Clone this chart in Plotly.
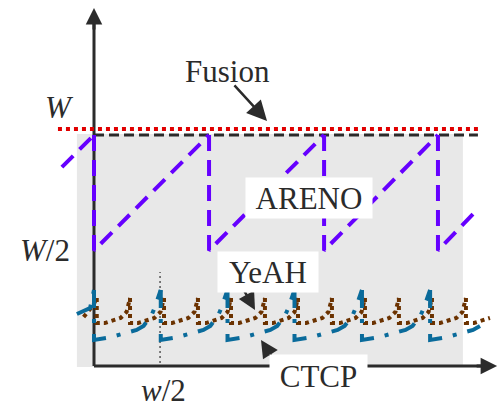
import plotly.graph_objects as go

# ---------------- data (y in units of W, x on same scale) ----------------
W_LEVEL = 1.0
FUSION_LEVEL = 1.026
FUSION_X = [-0.156, 1.662]
W_LINE_X = [0.0, 1.662]

# ARENO sawtooth
areno_drop_x = [0.0, 0.498, 0.996, 1.489]
areno_high = 1.0
areno_low = 0.5
areno_lead_x = [-0.139, 0.0]
areno_lead_y = [0.861, 1.0]
areno_end_x = 1.662
areno_end_y = 0.680

# CTCP (cubic-like ramps)
ctcp_drop_x = [0.0, 0.289, 0.578, 0.868, 1.160, 1.455]
ctcp_top = 0.329
ctcp_ramp_frac = [0.0, 0.223, 0.433, 0.639, 0.742, 0.804, 0.863, 0.907, 0.952, 1.0]
ctcp_ramp_y = [0.113, 0.123, 0.139, 0.156, 0.173, 0.195, 0.221, 0.251, 0.290, 0.329]
ctcp_lead_x = [-0.074, -0.017, 0.0]
ctcp_lead_y = [0.225, 0.251, 0.329]
ctcp_tail_frac_max = 0.742
ctcp_period = 0.291

# YeAH
yeah_drop_x = [0.012, 0.156, 0.303, 0.450, 0.593, 0.740, 0.883, 1.030, 1.173, 1.320, 1.463, 1.610]
yeah_top = 0.294
yeah_ramp_frac = [0.0, 0.241, 0.476, 0.717, 0.897, 0.959, 1.0]
yeah_ramp_y = [0.186, 0.186, 0.195, 0.208, 0.234, 0.264, 0.294]
yeah_lead_x = [-0.045, -0.025, -0.004, 0.012]
yeah_lead_y = [0.212, 0.235, 0.262, 0.294]
yeah_tail_frac_max = 0.717
yeah_period = 0.145

# w/2 marker
w2_x = 0.286
w2_y = [0.013, 0.407]

# colours / styles
PURPLE = "#6600ff"
BLUE = "#0a6b9b"
BROWN = "#6b3200"
RED = "#e00000"
DARK = "#2b2b2b"
GRAY_BG = "#e8e8e8"
FONT = "Liberation Serif"
FS = 31

fig = go.Figure()


def seg(x, y, color, width, dash):
    fig.add_trace(go.Scatter(x=x, y=y, mode="lines", showlegend=False, hoverinfo="skip",
                             line=dict(color=color, width=width, dash=dash)))


# reference lines
seg(W_LINE_X, [W_LEVEL, W_LEVEL], DARK, 3, "10px,5px")
seg(FUSION_X, [FUSION_LEVEL, FUSION_LEVEL], RED, 4, "4px,4px")

# ARENO
AR_DASH = "16px,9px"
seg(areno_lead_x, areno_lead_y, PURPLE, 4, AR_DASH)
for i, x0 in enumerate(areno_drop_x):
    if i + 1 < len(areno_drop_x):
        x1, y1 = areno_drop_x[i + 1], areno_high
    else:
        x1, y1 = areno_end_x, areno_end_y
    seg([x0, x0, x1], [areno_high, areno_low, y1], PURPLE, 4, AR_DASH)

# YeAH
YE_DASH = "4px,4px"
seg(yeah_lead_x, yeah_lead_y, BROWN, 4, YE_DASH)
for i, x0 in enumerate(yeah_drop_x):
    if i + 1 < len(yeah_drop_x):
        p = yeah_drop_x[i + 1] - x0
        fr = yeah_ramp_frac
        ys = yeah_ramp_y
    else:
        p = yeah_period
        fr = [f for f in yeah_ramp_frac if f <= yeah_tail_frac_max]
        ys = yeah_ramp_y[:len(fr)]
    xs = [x0] + [x0 + f * p for f in fr]
    seg(xs, [yeah_top] + list(ys), BROWN, 4, YE_DASH)

# CTCP
CT_DASH = "18px,11px,4px,11px"
seg(ctcp_lead_x, ctcp_lead_y, BLUE, 4, CT_DASH)
for i, x0 in enumerate(ctcp_drop_x):
    if i + 1 < len(ctcp_drop_x):
        p = ctcp_drop_x[i + 1] - x0
        fr = ctcp_ramp_frac
        ys = ctcp_ramp_y
    else:
        p = ctcp_period
        fr = [f for f in ctcp_ramp_frac if f <= ctcp_tail_frac_max]
        ys = ctcp_ramp_y[:len(fr)]
    xs = [x0] + [x0 + f * p for f in fr]
    seg(xs, [ctcp_top] + list(ys), BLUE, 4, CT_DASH)

# shapes: background, axes, w/2 marker
shapes = [
    dict(type="rect", xref="x", yref="y", x0=-0.074, x1=1.597, y0=-0.004, y1=1.004,
         fillcolor=GRAY_BG, line=dict(width=0), layer="below"),
    dict(type="line", xref="x", yref="y", x0=0, x1=0, y0=0, y1=1.50,
         line=dict(color=DARK, width=3), layer="below"),
    dict(type="line", xref="x", yref="y", x0=0, x1=1.70, y0=0, y1=0,
         line=dict(color=DARK, width=3), layer="below"),
    dict(type="line", xref="x", yref="y", x0=w2_x, x1=w2_x, y0=w2_y[0], y1=w2_y[1],
         line=dict(color="#555555", width=1.5, dash="2px,3px"), layer="below"),
]

annotations = []


def arrow(tail, head, width, size):
    annotations.append(dict(x=head[0], y=head[1], ax=tail[0], ay=tail[1], xref="x", yref="y",
                            axref="x", ayref="y", text="", showarrow=True, arrowhead=2,
                            arrowwidth=width, arrowsize=size, arrowcolor=DARK, standoff=0))


arrow((0, 1.45), (0, 1.55), 3, 1.1)
arrow((1.65, 0), (1.745, 0), 3, 1.1)
arrow((0.602, 1.221), (0.749, 1.061), 2.5, 1.6)
arrow((0.636, 0.351), (0.697, 0.242), 2.5, 1.4)
arrow((0.784, 0.017), (0.723, 0.113), 2.5, 1.4)


def label(text, x, y, w=None, h=None, bg=None):
    d = dict(x=x, y=y, xref="x", yref="y", text=text, showarrow=False,
             font=dict(family=FONT, size=FS, color=DARK), xanchor="center", yanchor="middle",
             borderpad=0)
    if bg:
        d["bgcolor"] = bg
    if w:
        d["width"] = w
    if h:
        d["height"] = h
    annotations.append(d)


label("Fusion", 0.580, 1.273)
label("ARENO", 0.931, 0.727, 126, 40, "white")
label("YeAH", 0.753, 0.407, 100, 40, "white")
label("CTCP", 0.970, -0.043, 97, 42, "white")
label("<i>W</i>", -0.150, 1.117)
label("<i>W</i>/2", -0.212, 0.498)
label("<i>w</i>/2", 0.299, -0.104)

fig.update_layout(
    width=498, height=407, margin=dict(l=0, r=0, t=0, b=0),
    paper_bgcolor="white", plot_bgcolor="white",
    xaxis=dict(range=[-0.4069, 1.7489], visible=False, fixedrange=True),
    yaxis=dict(range=[-0.1775, 1.5844], visible=False, fixedrange=True),
    shapes=shapes, annotations=annotations,
)

fig.write_html("out.html")
